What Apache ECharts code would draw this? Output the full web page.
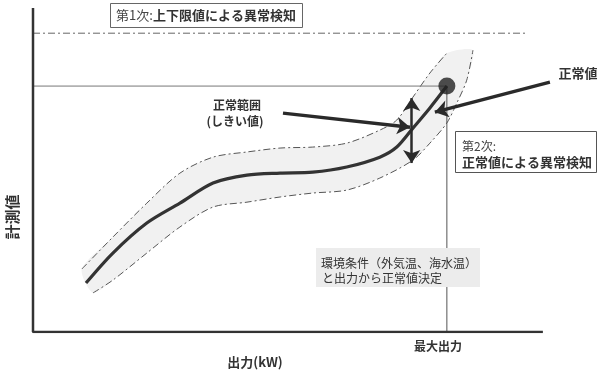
<!DOCTYPE html>
<html>
<head>
<meta charset="utf-8">
<script src="https://cdn.jsdelivr.net/npm/echarts@6/dist/echarts.min.js"></script>
<style>
html, body { margin: 0; padding: 0; background: #fff; }
#main { width: 600px; height: 370px; }
</style>
</head>
<body>
<div id="main"></div>
<script>
// 出力(最大出力=100) と 計測値(正常値=100) の概念図
var normalCurve = [[12.8,19.9],[19.3,32.1],[27.5,44.3],[35.5,52.4],[43.5,60.6],[51.7,63.8],[59.7,64.6],
    [67.6,65.0],[75.8,67.1],[83.8,71.1],[87.9,75.2],[91.8,82.9],[95.9,91.1],[100,100]];
var upperBound = [[11.8,25.6],[19.3,38.6],[27.5,52.4],[35.5,64.6],[43.5,71.1],[51.7,73.2],[59.7,74.8],
    [67.6,75.2],[75.8,76.8],[83.8,82.1],[87.9,86.2],[91.8,95.5],[95.9,105.3],[100,113.4]];
var lowerBound = [[14.5,15.9],[19.3,21.1],[27.5,32.1],[35.5,42.7],[43.5,50.8],[51.7,52.8],[59.7,54.9],
    [67.6,56.5],[75.8,57.7],[83.8,62.6],[91.8,69.9],[95.9,76.8],[100,85.0],[102.4,93.1],[104.8,102.4],[106.3,114.6]];
var axisFrame = [[0,131.7],[0,0],[123.2,0]];
var upperLimit = [[0,121.5],[119.3,121.5]];
var normalLevel = [[0,100],[100,100]];
var maxOutput = [[100,100],[100,0]];
var normalPoint = [[100,100]];
var arrowNormal = [[124.9,101.6],[97.1,89.4]];
var arrowRange = [[60.4,89.0],[91.1,83.3]];
var rangeSpan = [[91.5,95.1],[91.5,68.7]];

var FONT = "'Noto Sans CJK JP', sans-serif";
var myChart = echarts.init(document.getElementById('main'));

function bandPoly(params, api) {
    var pts = upperBound.map(function (p) { return api.coord(p); });
    lowerBound.slice().reverse().forEach(function (p) { pts.push(api.coord(p)); });
    return {
        type: 'polygon',
        shape: { points: pts, smooth: 0.25 },
        style: { fill: '#f1f1f1' }
    };
}

myChart.setOption({
    animation: false,
    grid: { left: 33, right: 0, top: 0, bottom: 38 },
    xAxis: { type: 'value', min: 0, max: 137, show: false },
    yAxis: { type: 'value', min: 0, max: 135, show: false },
    series: [
        {
            type: 'custom',
            renderItem: bandPoly,
            data: [[0, 0]],
            z: 1,
            silent: true
        },
        {
            type: 'line', data: upperBound, smooth: 0.3, symbol: 'none',
            lineStyle: { color: '#555', width: 1, type: [7, 3, 2, 3] }, z: 3
        },
        {
            type: 'line', data: lowerBound, smooth: 0.3, symbol: 'none',
            lineStyle: { color: '#555', width: 1, type: [7, 3, 2, 3] }, z: 3
        },
        {
            type: 'line', data: upperLimit, symbol: 'none',
            lineStyle: { color: '#666', width: 1, type: [7, 3, 2, 3] }
        },
        {
            type: 'line', data: normalLevel, symbol: 'none',
            lineStyle: { color: '#777', width: 1 }
        },
        {
            type: 'line', data: maxOutput, symbol: 'none',
            lineStyle: { color: '#555', width: 1 }
        },
        {
            type: 'line', data: normalCurve, smooth: 0.3, symbol: 'none',
            lineStyle: { color: '#333', width: 3.2 }, z: 4
        },
        {
            type: 'line', data: axisFrame, symbol: 'none',
            lineStyle: { color: '#333', width: 2.5 }, z: 5,
            markLine: {
                silent: true,
                animation: false,
                label: { show: false },
                symbol: ['none', 'arrow'],
                symbolSize: 13,
                data: [
                    [{ coord: arrowNormal[0], lineStyle: { color: '#2a2a2a', width: 3.5, type: 'solid' } },
                     { coord: arrowNormal[1] }],
                    [{ coord: arrowRange[0], lineStyle: { color: '#2a2a2a', width: 3.5, type: 'solid' } },
                     { coord: arrowRange[1] }],
                    [{ coord: rangeSpan[0], symbol: 'arrow', lineStyle: { color: '#2a2a2a', width: 2.5, type: 'solid' } },
                     { coord: rangeSpan[1], symbol: 'arrow' }]
                ]
            }
        },
        {
            type: 'scatter', data: normalPoint, symbolSize: 17,
            itemStyle: { color: '#222' }, z: 6
        }
    ],
    graphic: [
        {
            type: 'rect', z: 100,
            shape: { x: 110.5, y: 3.5, width: 192, height: 24 },
            style: { fill: '#fff', stroke: '#666', lineWidth: 1 }
        },
        {
            type: 'text', z: 101, x: 206, y: 15,
            style: {
                text: '{a|第1次:}{b|上下限値による異常検知}',
                align: 'center', verticalAlign: 'middle',
                rich: {
                    a: { font: '13px ' + FONT, fill: '#444' },
                    b: { font: 'bold 13px ' + FONT, fill: '#333' }
                }
            }
        },
        {
            type: 'rect', z: 100,
            shape: { x: 455.5, y: 131.5, width: 141, height: 41 },
            style: { fill: '#fff', stroke: '#555', lineWidth: 1 }
        },
        {
            type: 'text', z: 101, x: 462, y: 146,
            style: { text: '第2次:', font: '12px ' + FONT, fill: '#444', verticalAlign: 'middle' }
        },
        {
            type: 'text', z: 101, x: 462, y: 162,
            style: { text: '正常値による異常検知', font: 'bold 13px ' + FONT, fill: '#333', verticalAlign: 'middle' }
        },
        {
            type: 'rect', z: 100,
            shape: { x: 316, y: 248, width: 164, height: 39 },
            style: { fill: '#ececec' }
        },
        {
            type: 'text', z: 101, x: 321, y: 263,
            style: { text: '環境条件（外気温、海水温）', font: '12px ' + FONT, fill: '#333', verticalAlign: 'middle' }
        },
        {
            type: 'text', z: 101, x: 322, y: 278,
            style: { text: 'と出力から正常値決定', font: '12px ' + FONT, fill: '#333', verticalAlign: 'middle' }
        },
        {
            type: 'text', z: 101, x: 578, y: 73,
            style: { text: '正常値', font: 'bold 13px ' + FONT, fill: '#333', align: 'center', verticalAlign: 'middle' }
        },
        {
            type: 'text', z: 101, x: 237, y: 105,
            style: { text: '正常範囲', font: 'bold 12px ' + FONT, fill: '#333', align: 'center', verticalAlign: 'middle' }
        },
        {
            type: 'text', z: 101, x: 235, y: 121,
            style: { text: '(しきい値)', font: 'bold 12px ' + FONT, fill: '#333', align: 'center', verticalAlign: 'middle' }
        },
        {
            type: 'text', z: 101, x: 438, y: 346,
            style: { text: '最大出力', font: 'bold 12px ' + FONT, fill: '#333', align: 'center', verticalAlign: 'middle' }
        },
        {
            type: 'text', z: 101, x: 255, y: 362,
            style: { text: '出力(kW)', font: 'bold 13px ' + FONT, fill: '#333', align: 'center', verticalAlign: 'middle' }
        },
        {
            type: 'text', z: 101, x: 12, y: 217, rotation: Math.PI / 2,
            style: { text: '計測値', font: 'bold 15px ' + FONT, fill: '#333', align: 'center', verticalAlign: 'middle' }
        }
    ]
});
</script>
</body>
</html>
